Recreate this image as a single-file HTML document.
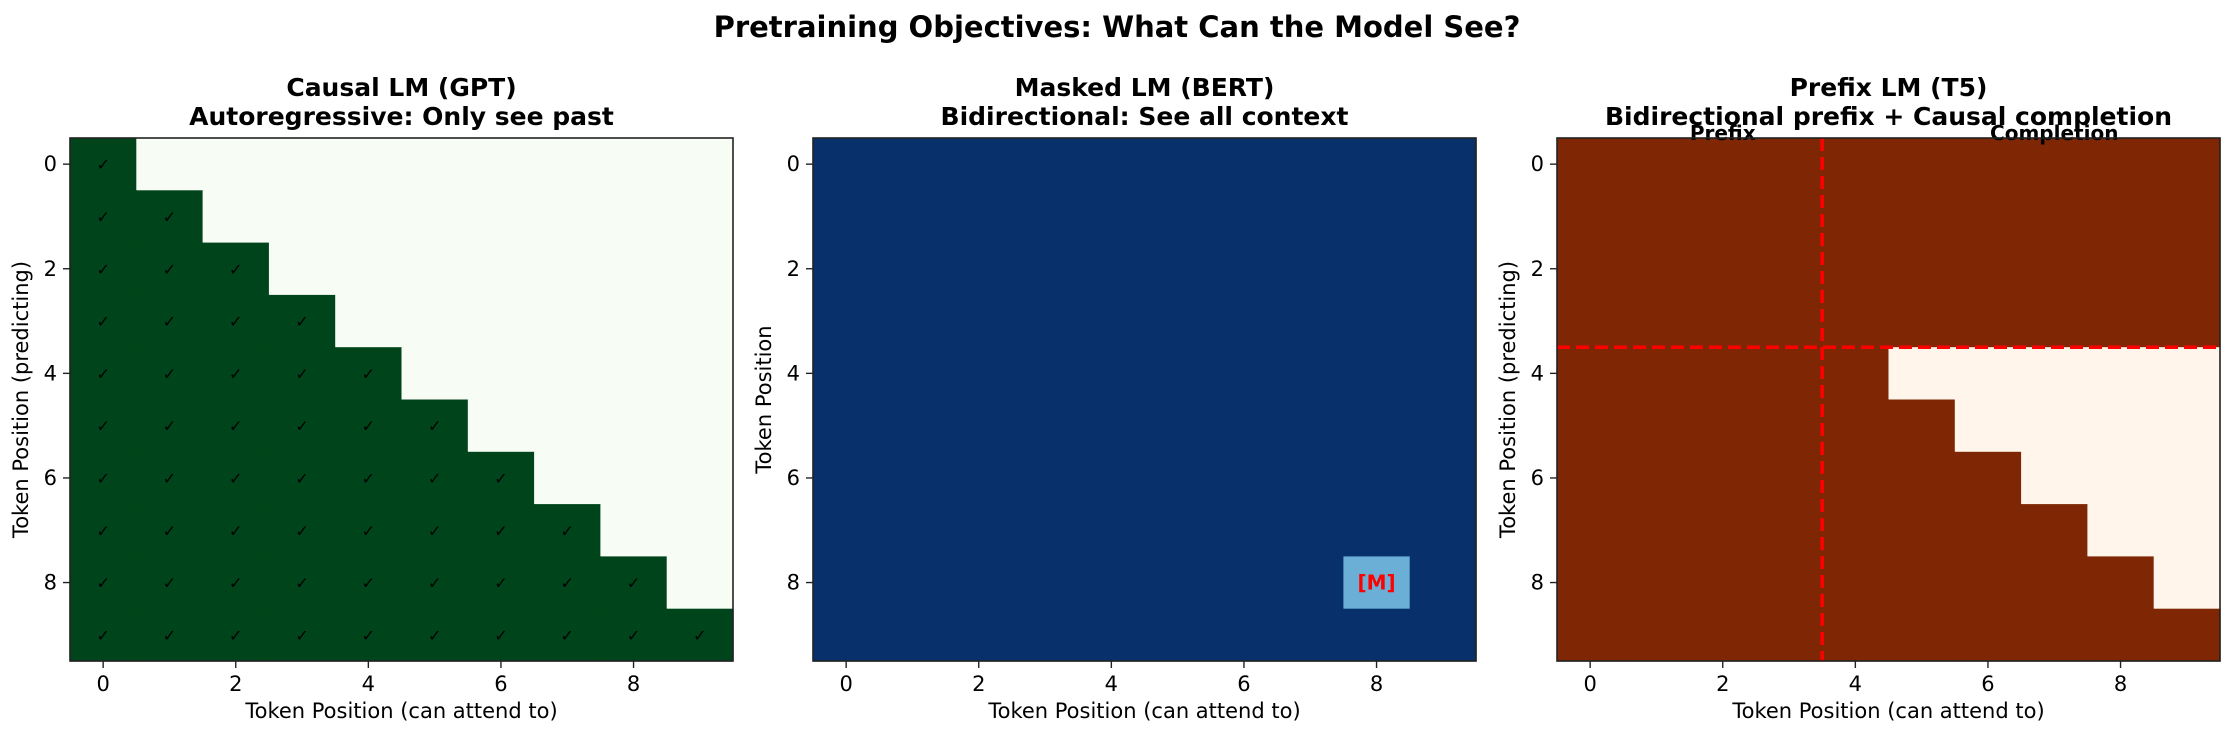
<!DOCTYPE html>
<html><head><meta charset="utf-8"><style>
body{margin:0;background:#fff}
svg{display:block;font-family:"DejaVu Sans","Liberation Sans",sans-serif}
</style></head><body>
<svg id="fig" width="2234" height="740">
<text x="1117" y="37" text-anchor="middle" font-size="29" font-weight="bold">Pretraining Objectives: What Can the Model See?</text>
</svg>
<script>
const tokenPositions=[0,1,2,3,4,5,6,7,8,9];
const tickLabels=[0,2,4,6,8];
const prefixLength=4;
const maskedRow=8, maskedCol=8;
const panelTitles=[["Causal LM (GPT)","Autoregressive: Only see past"],["Masked LM (BERT)","Bidirectional: See all context"],["Prefix LM (T5)","Bidirectional prefix + Causal completion"]];
const yLabels=["Token Position (predicting)","Token Position","Token Position (predicting)"];
const causal=tokenPositions.map(i=>tokenPositions.map(j=>j<=i?1:0));
const masked=tokenPositions.map(i=>tokenPositions.map(j=>(i===maskedRow&&j===maskedCol)?0.5:1));
const prefix=tokenPositions.map(i=>tokenPositions.map(j=>(i<prefixLength||j<prefixLength||j<=i)?1:0));
const NS="http://www.w3.org/2000/svg";
const svg=document.getElementById('fig');
function mk(tag,attrs,parent){const e=document.createElementNS(NS,tag);for(const k in attrs)e.setAttribute(k,attrs[k]);(parent||svg).appendChild(e);return e;}
const lefts=[70,813,1557], W=663, plotTop=138, H=523;
const cmaps=[["#f7fcf5","#00441b"],["#f7fbff","#08306b"],["#fff5eb","#7f2704"]];
const mats=[causal,masked,prefix];
function col(p,v){if(p===1&&v===0.5)return "#6baed6";return v>=1?cmaps[p][1]:cmaps[p][0];}
for(let p=0;p<3;p++){
  const L=lefts[p], n=tokenPositions.length, cw=W/n, ch=H/n;
  const xs=v=>L+(v+0.5)*cw, ys=v=>plotTop+(v+0.5)*ch;
  const g=mk('g',{});
  
  
  mats[p].forEach((row,i)=>row.forEach((v,j)=>{
    const r=mk('rect',{x:xs(j)-cw/2,y:ys(i)-ch/2,width:cw+0.6,height:ch+0.6,fill:col(p,v)},g);
    
    
    if(p===0&&v===1){const t=mk('text',{x:xs(j),y:ys(i)+6,'text-anchor':'middle','font-size':16,fill:'#000'},g);t.textContent='✓';
      
      }
  }));
  if(p===1){const t=mk('text',{x:xs(maskedCol),y:ys(maskedRow)+7,'text-anchor':'middle','font-size':20,'font-weight':'bold',fill:'#ff0000'},g);t.textContent='[M]';
    
    }
  if(p===2){
    const b=prefixLength-0.5;
    const l1=mk('line',{x1:xs(b),x2:xs(b),y1:plotTop,y2:plotTop+H,stroke:'#ff0000','stroke-width':3.5,'stroke-dasharray':'13,6'},g);
    
    
    const l2=mk('line',{x1:L,x2:L+W,y1:ys(b),y2:ys(b),stroke:'#ff0000','stroke-width':3.5,'stroke-dasharray':'13,6'},g);
    
    
    const t1=mk('text',{x:xs(2),y:plotTop+2,'text-anchor':'middle','font-size':20,'font-weight':'bold'},g);t1.textContent='Prefix';
    
    
    const t2=mk('text',{x:xs(7),y:plotTop+2,'text-anchor':'middle','font-size':20,'font-weight':'bold'},g);t2.textContent='Completion';
    
    
  }
  const fr=mk('rect',{x:L,y:plotTop,width:W,height:H,fill:'none',stroke:'#222','stroke-width':1.6},g);
  
  
  tickLabels.forEach(v=>{
    mk('line',{x1:xs(v),x2:xs(v),y1:plotTop+H,y2:plotTop+H+7,stroke:'#222','stroke-width':1.4},g);
    const tx=mk('text',{x:xs(v),y:plotTop+H+30,'text-anchor':'middle','font-size':21},g);tx.textContent=v;
    
    
    mk('line',{x1:L-7,x2:L,y1:ys(v),y2:ys(v),stroke:'#222','stroke-width':1.4},g);
    const ty=mk('text',{x:L-13,y:ys(v)+7,'text-anchor':'end','font-size':21},g);ty.textContent=v;
    
    
  });
  const xl=mk('text',{x:L+W/2,y:718,'text-anchor':'middle','font-size':21},g);xl.textContent='Token Position (can attend to)';
  
  
  const yx=L-42;
  const yl=mk('text',{x:yx,y:plotTop+H/2,'text-anchor':'middle','font-size':21,transform:`rotate(-90 ${yx} ${plotTop+H/2})`},g);yl.textContent=yLabels[p];
  
  
  panelTitles[p].forEach((s,k)=>{const t=mk('text',{x:L+W/2,y:96+k*29,'text-anchor':'middle','font-size':25,'font-weight':'bold'},g);t.textContent=s;
    
    });
}
</script>
</body></html>
